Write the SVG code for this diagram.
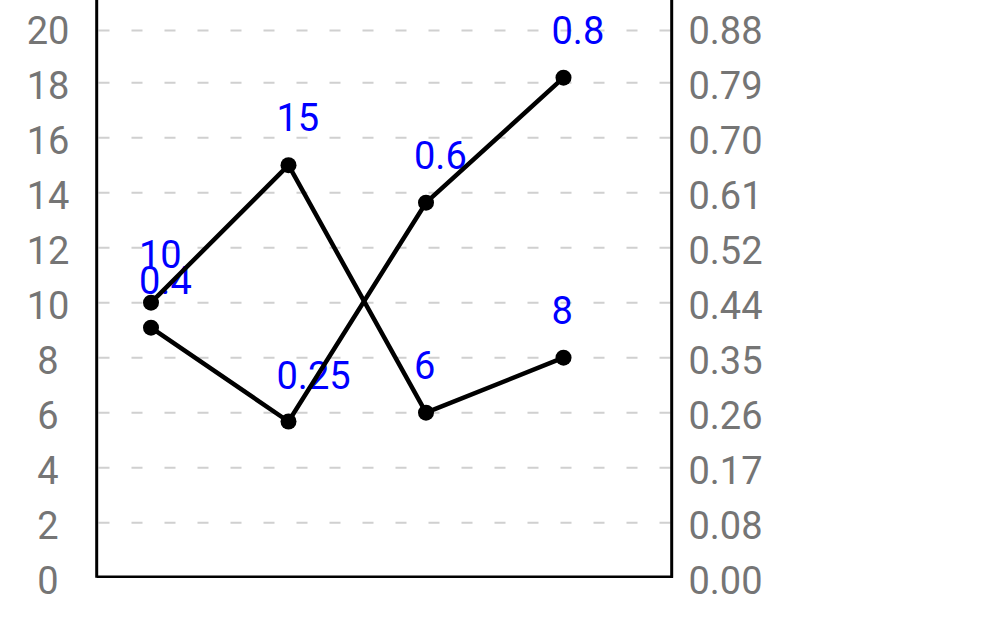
<svg xmlns="http://www.w3.org/2000/svg" width="992" height="640" viewBox="0 0 992 640">
<style>
.ax{font-family:Roboto,"Liberation Sans",sans-serif;font-size:38px;fill:#757575}
.lbl{font-family:Roboto,"Liberation Sans",sans-serif;font-size:38px;fill:#0000ff}
.grid{stroke:#d0d0d0;stroke-width:2;stroke-dasharray:11 22;fill:none}
.axis{stroke:#000;fill:none}
.series{stroke:#000;stroke-width:4.5;fill:none;stroke-linejoin:round}
.dot{fill:#000}
</style>
<rect width="992" height="640" fill="#fff"/>
<g id="grid">
<line class="grid" x1="98.5" y1="30.5" x2="671" y2="30.5"/>
<line class="grid" x1="98.5" y1="82.7" x2="671" y2="82.7"/>
<line class="grid" x1="98.5" y1="137.7" x2="671" y2="137.7"/>
<line class="grid" x1="98.5" y1="192.7" x2="671" y2="192.7"/>
<line class="grid" x1="98.5" y1="247.7" x2="671" y2="247.7"/>
<line class="grid" x1="98.5" y1="302.7" x2="671" y2="302.7"/>
<line class="grid" x1="98.5" y1="357.7" x2="671" y2="357.7"/>
<line class="grid" x1="98.5" y1="412.7" x2="671" y2="412.7"/>
<line class="grid" x1="98.5" y1="467.7" x2="671" y2="467.7"/>
<line class="grid" x1="98.5" y1="522.7" x2="671" y2="522.7"/>
</g>
<g id="axes">
<line class="axis" stroke-width="3" x1="96.7" y1="0" x2="96.7" y2="577.7"/>
<line class="axis" stroke-width="3" x1="671.7" y1="0" x2="671.7" y2="577.7"/>
<line class="axis" stroke-width="2.5" x1="96.7" y1="576.7" x2="673" y2="576.7"/>
</g>
<g id="left-axis-labels" text-anchor="middle">
<text class="ax" x="48" y="44.3">20</text>
<text class="ax" x="48" y="99.3">18</text>
<text class="ax" x="48" y="154.3">16</text>
<text class="ax" x="48" y="209.3">14</text>
<text class="ax" x="48" y="264.3">12</text>
<text class="ax" x="48" y="319.3">10</text>
<text class="ax" x="48" y="374.3">8</text>
<text class="ax" x="48" y="429.3">6</text>
<text class="ax" x="48" y="484.3">4</text>
<text class="ax" x="48" y="539.3">2</text>
<text class="ax" x="48" y="594.3">0</text>
</g>
<g id="right-axis-labels" text-anchor="middle">
<text class="ax" x="725.5" y="44.3">0.88</text>
<text class="ax" x="725.5" y="99.3">0.79</text>
<text class="ax" x="725.5" y="154.3">0.70</text>
<text class="ax" x="725.5" y="209.3">0.61</text>
<text class="ax" x="725.5" y="264.3">0.52</text>
<text class="ax" x="725.5" y="319.3">0.44</text>
<text class="ax" x="725.5" y="374.3">0.35</text>
<text class="ax" x="725.5" y="429.3">0.26</text>
<text class="ax" x="725.5" y="484.3">0.17</text>
<text class="ax" x="725.5" y="539.3">0.08</text>
<text class="ax" x="725.5" y="594.3">0.00</text>
</g>
<g id="data-labels">
<text class="lbl" x="139" y="268">10</text>
<text class="lbl" x="276.5" y="131">15</text>
<text class="lbl" x="414" y="379">6</text>
<text class="lbl" x="551.5" y="324">8</text>
<text class="lbl" x="139" y="294">0.4</text>
<text class="lbl" x="276.5" y="389">0.25</text>
<text class="lbl" x="414" y="169">0.6</text>
<text class="lbl" x="551.5" y="44">0.8</text>
</g>
<g id="connectors">
<polyline class="series" points="151,302.7 288.5,165.2 426,412.7 563.5,357.7"/>
<polyline class="series" points="151,327.7 288.5,421.5 426,202.7 563.5,77.7"/>
</g>
<g id="series-a-points">
<circle class="dot" cx="151" cy="302.7" r="8"/>
<circle class="dot" cx="288.5" cy="165.2" r="8"/>
<circle class="dot" cx="426" cy="412.7" r="8"/>
<circle class="dot" cx="563.5" cy="357.7" r="8"/>
</g>
<g id="series-b-points">
<circle class="dot" cx="151" cy="327.7" r="8"/>
<circle class="dot" cx="288.5" cy="421.5" r="8"/>
<circle class="dot" cx="426" cy="202.7" r="8"/>
<circle class="dot" cx="563.5" cy="77.7" r="8"/>
</g>
</svg>
